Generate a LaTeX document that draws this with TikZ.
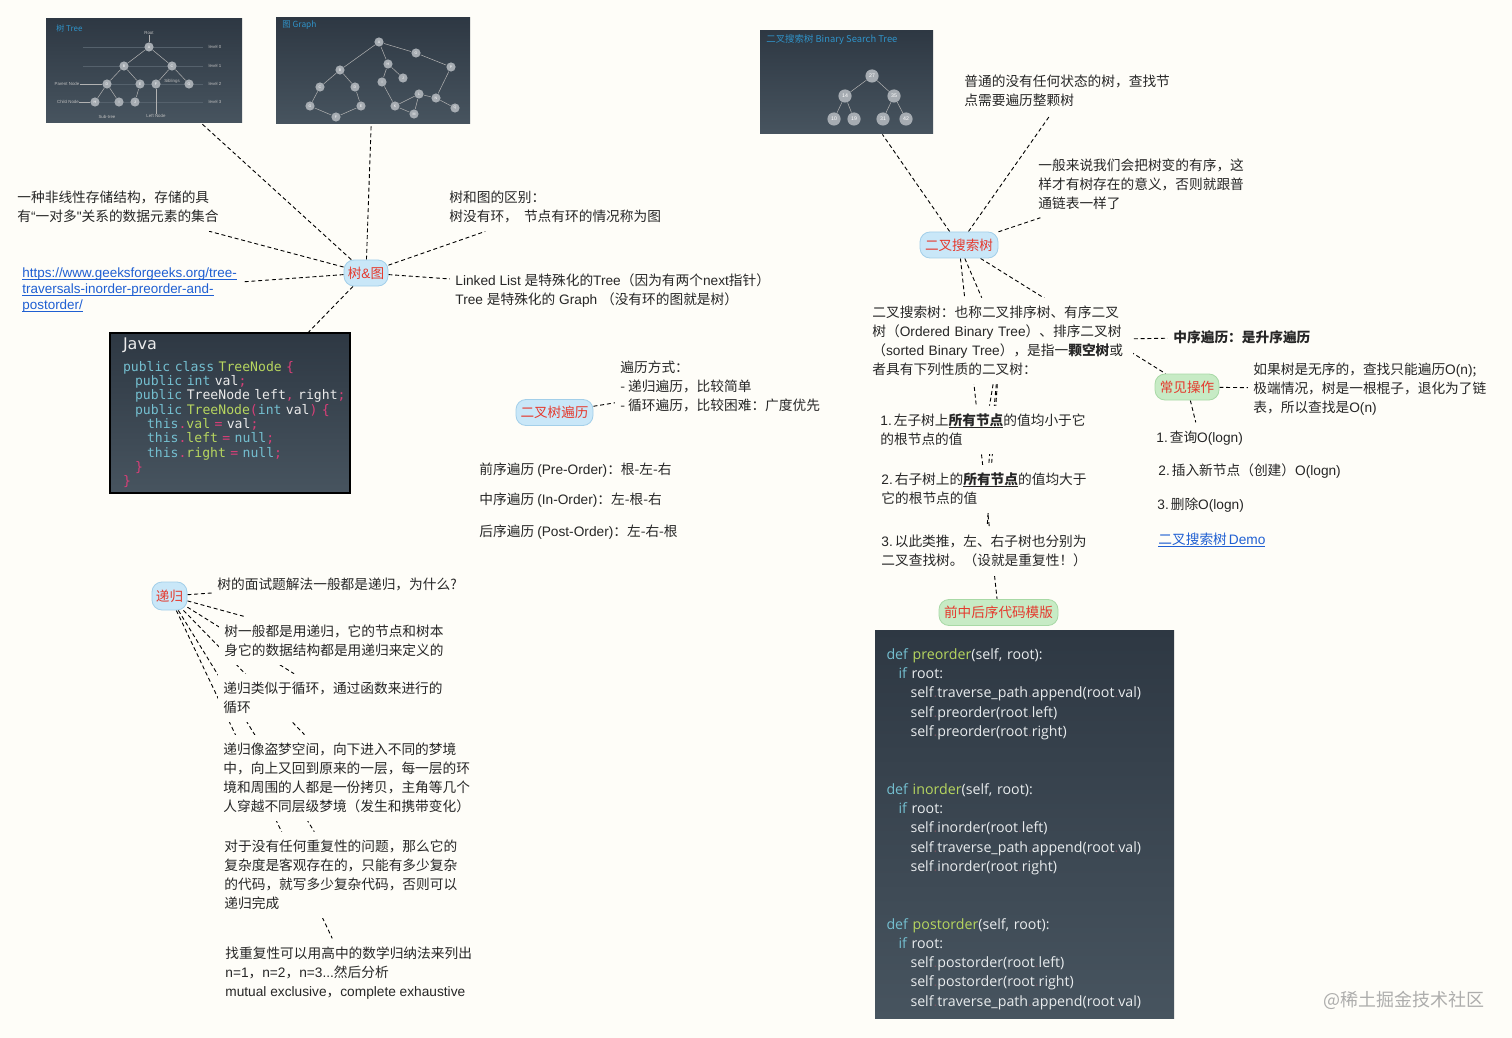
\documentclass[tikz,border=0pt]{standalone}
\usepackage{fontspec}
\setmainfont{Noto Sans CJK SC}
\newfontfamily\latinfont{Liberation Sans}
\newfontfamily\codefont{Open Sans}
\newfontfamily\monofont{DejaVu Sans Mono}
\newfontfamily\javafont{DejaVu Sans}
\newcommand{\la}[1]{{\latinfont #1}}
\definecolor{paper}{HTML}{FEFDF8}
\definecolor{hubred}{HTML}{E5392D}
\definecolor{bluefill}{HTML}{C9E7F8}
\definecolor{blueline}{HTML}{A3CFE9}
\definecolor{greenfill}{HTML}{C7EBC5}
\definecolor{greenline}{HTML}{A8D9A6}
\definecolor{linkblue}{HTML}{1F5FD2}
\definecolor{slatetop}{HTML}{2E3843}
\definecolor{slatebot}{HTML}{47545F}
\definecolor{titleblue}{HTML}{2F93C9}
\definecolor{kwteal}{HTML}{74BFD0}
\definecolor{fngreen}{HTML}{B7D65F}
\definecolor{pinkmark}{HTML}{D93F78}
\definecolor{dimdot}{HTML}{75525F}
\definecolor{codewhite}{HTML}{E9ECEE}
\definecolor{dotgray}{HTML}{A6ACB2}
\definecolor{faintline}{HTML}{55616C}
\newcommand{\kw}[1]{\textcolor{kwteal}{#1}}
\newcommand{\fn}[1]{\textcolor{fngreen}{#1}}
\newcommand{\pk}[1]{\textcolor{pinkmark}{#1}}
\newcommand{\dt}{\textcolor{dimdot}{.}}
\newcommand{\lvlone}{\hspace*{6pt}}
\newcommand{\lvltwo}{\hspace*{12pt}}
\newcommand{\numdot}[1]{\la{#1.}\hspace{1pt}}
\newcommand{\undl}[1]{\setbox0\hbox{#1}\rlap{\rule[-1.1pt]{\wd0}{0.35pt}}\box0}
\pgfdeclarelayer{back}
\pgfsetlayers{back,main}
\begin{document}
\begin{tikzpicture}[x=0.5pt,y=-0.5pt,
				note/.style={align=left,fill=paper,inner xsep=2.5pt,inner ysep=4pt,text=black!85,font=\fontsize{6.85}{9.5}\selectfont},
				weblink/.style={note,text=linkblue,font=\latinfont\fontsize{6.72}{7.8}\selectfont},
				bluehub/.style={rounded corners=5pt,draw=blueline,fill=bluefill,text=hubred,inner sep=0pt,minimum height=13pt,font=\fontsize{6.8}{8}\selectfont},
				greenhub/.style={bluehub,draw=greenline,fill=greenfill},
				slatebox/.style={top color=slatetop,bottom color=slatebot,inner sep=0pt},
				imgtitle/.style={text=titleblue,inner sep=0pt,anchor=west,font=\fontsize{#1}{5}\selectfont},
				imglabel/.style={text=white!75!black,inner sep=0pt,font=\latinfont\fontsize{2.2}{3}\selectfont},
				treedot/.style={circle,fill=dotgray,text=white,inner sep=0pt,minimum size=4.6pt,font=\latinfont\fontsize{1.8}{2}\selectfont},
				bstdot/.style={treedot,minimum size=6.6pt,font=\latinfont\fontsize{2.6}{3}\selectfont},
				imgline/.style={white!70!black,line width=0.25pt},
				dashline/.style={black,line width=0.45pt,dash pattern=on 2pt off 1.4pt}]
\useasboundingbox (0,0) rectangle (1512,1038);
\node[slatebox,minimum width=98pt,minimum height=52pt] (treeimg) at (144,71) {};
\node[imgtitle=4] (treetitle) at (56,28) {树 Tree};
\foreach \n/\y in {0/47,1/66,2/84,3/102}{
	\node[imglabel] (lv\n) at (215,\y) {level \n};
	\draw[faintline,line width=0.2pt] (83,\y) -- (203,\y);
}
\foreach \n/\x/\y in {A/149/47,B/124/66,C/172/66,D/107/84,E/140/84,F/156/84,G/189/84,H/95/102,I/119/102,J/135/102}
	\node[treedot] (t\n) at (\x,\y) {\n};
\foreach \a/\b in {A/B,A/C,B/D,B/E,C/F,C/G,D/H,D/I,E/J}
	\draw[imgline] (t\a) -- (t\b);
\node[imglabel] (rootlabel) at (149,33) {Root};
\node[imglabel] (parentlabel) at (67,84) {Parent Node};
\node[imglabel] (childlabel) at (68,102) {Child Node};
\node[imglabel] (siblabel) at (172,81) {Siblings};
\node[imglabel] (sublabel) at (107,117) {Sub-tree};
\node[imglabel] (leftlabel) at (156,116) {Left Node};
\draw[imgline] (rootlabel) -- (tA);
\draw[imgline] (parentlabel) -- (tD);
\draw[imgline] (childlabel) -- (tH);
\draw[imgline] (leftlabel) -- (tF);

\node[slatebox,minimum width=97pt,minimum height=53pt] (graphimg) at (373,71) {};
\node[imgtitle=4.2] (graphtitle) at (282,25) {图 Graph};
\foreach \n/\x/\y in {A/379/42,O/416/53,P/451/67,B/340/70,H/388/64,J/403/78,I/382/82,C/320/87,D/355/87,G/310/106,F/336/117,E/361/106,K/395/106,L/419/94,N/436/98,Q/455/108,M/414/114}
	\node[treedot] (g\n) at (\x,\y) {\n};
\foreach \a/\b in {A/B,A/H,A/O,O/P,P/N,N/Q,N/L,L/K,L/M,K/M,H/J,H/I,I/K,B/C,B/D,C/G,G/F,F/E,E/D}
	\draw[imgline] (g\a) -- (g\b);

\node[slatebox,minimum width=86.5pt,minimum height=51.5pt] (bstimg) at (846.5,82.5) {};
\node[imgtitle=4.7] (bsttitle) at (766,40) {二叉搜索树 Binary Search Tree};
\foreach \n/\x/\y in {27/872/76,14/845/96,35/894/96,10/834/119,19/854/119,31/883/119,42/906/119}
	\node[bstdot] (b\n) at (\x,\y) {\n};
\foreach \a/\b in {27/14,27/35,14/10,14/19,35/31,35/42}
	\draw[imgline] (b\a) -- (b\b);

\node[bluehub,minimum width=22pt] (treehub) at (366,273) {树\la{\&}图};
\node[note,anchor=west] (shape) at (12,207) {一种非线性存储结构，存储的具\\有\la{“}一对多\la{"}关系的数据元素的集合};
\node[note,anchor=west] (differ) at (444,207) {树和图的区别：\\树没有环，\ \ 节点有环的情况称为图};
\node[weblink,anchor=west] (gfglink) at (17,290) {\undl{https://www.geeksforgeeks.org/tree-}\\\undl{traversals-inorder-preorder-and-}\\\undl{postorder/}};
\node[note,anchor=west] (special) at (450,290.5) {\la{Linked List }是特殊化的\la{Tree}（因为有两个\la{next}指针）\\\la{Tree }是特殊化的\la{ Graph }（没有环的图就是树）};
\node[slatebox,draw=black,line width=0.6pt,minimum width=120pt,minimum height=80pt,text width=107pt,align=left,text=white!92!black,font=\monofont\fontsize{6.56}{7.15}\selectfont] (javacode) at (230,413) {{\javafont\fontsize{8}{12}\selectfont Java}\\[3.5pt]
\kw{public class }\fn{TreeNode }\pk{\{}\\
\lvlone\kw{public int }val\pk{;}\\
\mbox{\lvlone\kw{public }TreeNode left\pk{,} right\pk{;}}\\
\lvlone\kw{public }\fn{TreeNode}\pk{(}\kw{int} val\pk{)} \pk{\{}\\
\lvltwo\kw{this}\pk{.}\fn{val} \pk{=} val\pk{;}\\
\lvltwo\kw{this}\pk{.}\fn{left} \pk{=} \kw{null}\pk{;}\\
\lvltwo\kw{this}\pk{.}\fn{right} \pk{=} \kw{null}\pk{;}\\
\lvlone\pk{\}}\\
\pk{\}}};

\node[bluehub,minimum width=38.5pt] (walkhub) at (554.5,412.5) {二叉树遍历};
\node[note,anchor=west] (walkways) at (615,386) {遍历方式：\\- 递归遍历，比较简单\\- 循环遍历，比较困难：广度优先};
\node[note,anchor=west] (preline) at (474,470) {前序遍历 \la{(Pre-Order)}：根-左-右};
\node[note,anchor=west] (inline) at (474,500) {中序遍历 \la{(In-Order)}：左-根-右};
\node[note,anchor=west] (postline) at (474,532) {后序遍历 \la{(Post-Order)}：左-右-根};

\node[bluehub,minimum width=17.5pt,minimum height=14pt] (rechub) at (169.5,596) {递归};
\node[note,anchor=west] (recwhy) at (212,584) {树的面试题解法一般都是递归，为什么?};
\node[note,anchor=west] (recdef) at (219,641) {树一般都是用递归，它的节点和树本\\身它的数据结构都是用递归来定义的};
\node[note,anchor=west] (recloop) at (218,698) {递归类似于循环，通过函数来进行的\\循环};
\node[note,anchor=west] (recdream) at (218,778) {递归像盗梦空间，向下进入不同的梦境\\中，向上又回到原来的一层，每一层的环\\境和周围的人都是一份拷贝，主角等几个\\人穿越不同层级梦境（发生和携带变化）};
\node[note,anchor=west] (recplain) at (219,875) {对于没有任何重复性的问题，那么它的\\复杂度是客观存在的，只能有多少复杂\\的代码，就写多少复杂代码，否则可以\\递归完成};
\node[note,anchor=west] (recfind) at (220,973) {找重复性可以用高中的数学归纳法来列出\\\la{n=1}，\la{n=2}，\la{n=3...}然后分析\\\la{mutual exclusive}，\la{complete exhaustive}};

\node[bluehub,minimum width=39pt] (bsthub) at (959,245) {二叉搜索树};
\node[note,anchor=west] (plainbst) at (959,91) {普通的没有任何状态的树，查找节\\点需要遍历整颗树};
\node[note,anchor=west] (sorted) at (1033,184) {一般来说我们会把树变的有序，这\\样才有树存在的意义，否则就跟普\\通链表一样了};
\node[note,anchor=west,text width=128pt] (bstdef) at (867,341) {二叉搜索树：也称二叉排序树、有序二叉\\树（\la{Ordered Binary Tree}）、排序二叉树\\（\la{sorted Binary Tree}），是指一\textbf{颗空树}或\\者具有下列性质的二叉树：};
\node[note,anchor=west,text width=105pt] (ruleone) at (875,430) {\numdot{1}左子树上\undl{\textbf{所有节点}}的值均小于它\\的根节点的值};
\node[note,anchor=west,text width=105pt] (ruletwo) at (876,489) {\numdot{2}右子树上的\undl{\textbf{所有节点}}的值均大于\\它的根节点的值};
\node[note,anchor=west,text width=104pt] (rulethree) at (876,551) {\mbox{\numdot{3}以此类推，左、右子树也分别为}\\\mbox{二叉查找树。（设就是重复性！）}};
\node[greenhub,minimum width=59.5pt] (codehub) at (998.5,612.5) {前中后序代码模版};
\node[note,anchor=west] (inorderasc) at (1168,337) {\textbf{中序遍历：是升序遍历}};
\node[greenhub,minimum width=32pt] (opshub) at (1187,387) {常见操作};
\node[note,anchor=west] (worstcase) at (1248,389) {如果树是无序的，查找只能遍历\la{O(n)};\\极端情况，树是一根棍子，退化为了链\\表，所以查找是\la{O(n)}};
\node[note,anchor=west] (opfind) at (1151,438) {\numdot{1}查询\la{O(logn)}};
\node[note,anchor=west] (opinsert) at (1153,471) {\numdot{2}插入新节点（创建）\la{O(logn)}};
\node[note,anchor=west] (opdelete) at (1152,505) {\numdot{3}删除\la{O(logn)}};
\node[note,anchor=west,text=linkblue] (demolink) at (1153,540) {\undl{二叉搜索树\hspace{1pt}\la{Demo}}};

\node[slatebox,minimum width=149.5pt,minimum height=194pt,text width=138pt,align=left,text=codewhite,font=\codefont\fontsize{7.1}{9.63}\selectfont] (pycode) at (1024.5,824) {\rule{0pt}{10.5pt}\kw{def} \fn{preorder}(self, root):\\
\lvlone\kw{if} root:\\
\lvltwo self\dt traverse\_path\dt append(root\dt val)\\
\lvltwo self\dt preorder(root\dt left)\\
\lvltwo self\dt preorder(root\dt right)\\[19.26pt]
\kw{def} \fn{inorder}(self, root):\\
\lvlone\kw{if} root:\\
\lvltwo self\dt inorder(root\dt left)\\
\lvltwo self\dt traverse\_path\dt append(root\dt val)\\
\lvltwo self\dt inorder(root\dt right)\\[19.26pt]
\kw{def} \fn{postorder}(self, root):\\
\lvlone\kw{if} root:\\
\lvltwo self\dt postorder(root\dt left)\\
\lvltwo self\dt postorder(root\dt right)\\
\lvltwo self\dt traverse\_path\dt append(root\dt val)};
\node[text=black!40,opacity=0.8,inner sep=0pt,anchor=east,font=\fontsize{9}{10}\selectfont] (stamp) at (1485,1000) {@稀土掘金技术社区};

\begin{pgfonlayer}{back}
\fill[paper] (0,0) rectangle (1512,1038);
\foreach \a/\b in {treehub/treeimg,treehub/graphimg,treehub/shape,treehub/differ,treehub/gfglink,treehub/special,treehub/javacode,walkhub/walkways,rechub/recwhy,rechub/recdef,rechub/recloop,rechub/recdream,rechub/recplain,rechub/recfind,bsthub/bstimg,bsthub/plainbst,bsthub/sorted,bsthub/bstdef,bsthub/codehub,bsthub/opshub,bstdef/ruleone,bstdef/ruletwo,bstdef/rulethree,bstdef/inorderasc,opshub/worstcase,opshub/opfind}
	\draw[dashline] (\a) -- (\b);
\end{pgfonlayer}
\end{tikzpicture}
\end{document}
